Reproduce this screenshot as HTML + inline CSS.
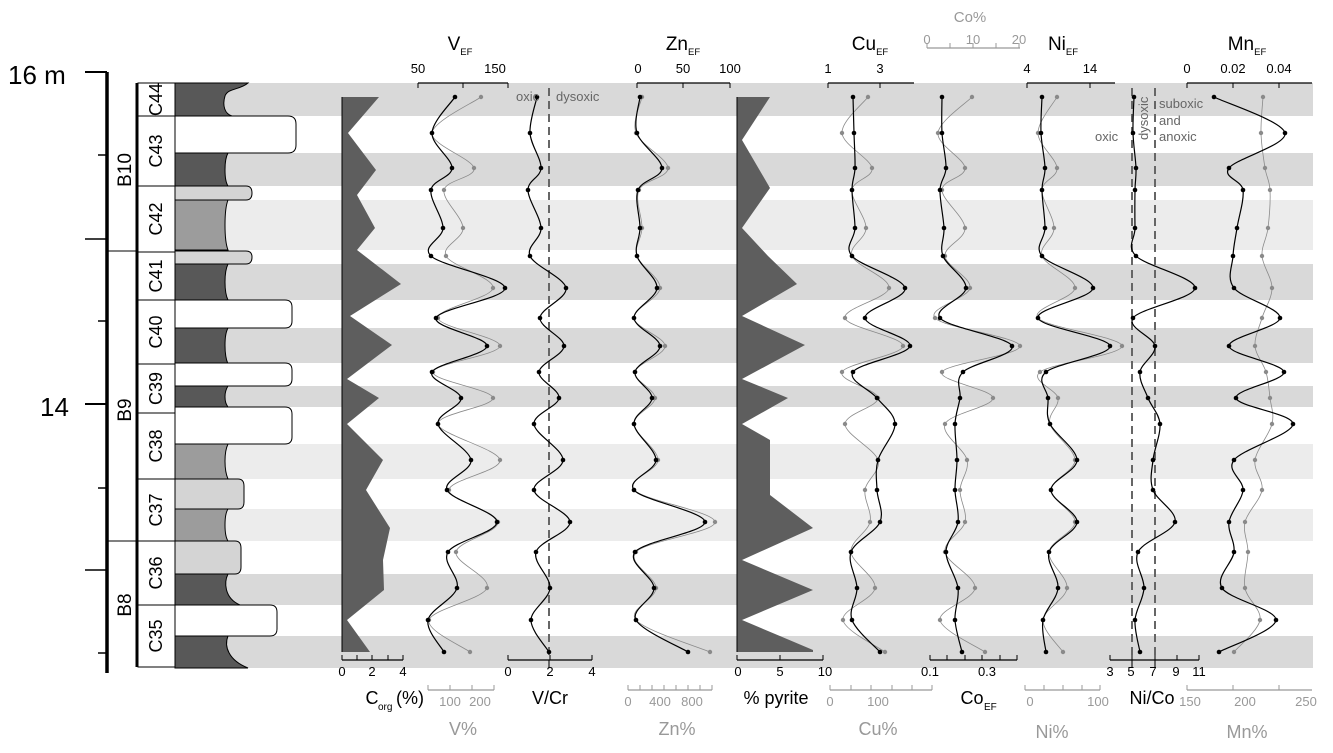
<!DOCTYPE html>
<html><head><meta charset="utf-8"><style>
body{margin:0;background:#fff;width:1333px;height:748px;overflow:hidden}
svg{font-family:"Liberation Sans",Arial,sans-serif}
</style></head><body>
<svg id="s" width="1333" height="748" viewBox="0 0 1333 748" xmlns="http://www.w3.org/2000/svg">
<g id="bands"></g>
<g stroke="#000" stroke-width="1">
<path d="M175,83 H248 C240,90 228,88 225,96 C222,106 225,114 232,116 H175Z" fill="#585858"/>
<path d="M175,153 H228 C224,160 224,180 228,186 H175Z" fill="#585858"/>
<path d="M175,200 H228 C224,210 224,240 228,250 H175Z" fill="#9c9c9c"/>
<path d="M175,264 H228 C224,272 224,292 228,300 H175Z" fill="#585858"/>
<path d="M175,328 H228 C224,335 224,355 228,364 H175Z" fill="#585858"/>
<path d="M175,386 H228 C224,392 224,402 228,407 H175Z" fill="#585858"/>
<path d="M175,444 H228 C224,452 224,470 228,479 H175Z" fill="#9c9c9c"/>
<path d="M175,509 H228 C224,515 224,535 228,541 H175Z" fill="#9c9c9c"/>
<path d="M175,574 H228 C224,582 224,598 240,605 H175Z" fill="#585858"/>
<path d="M175,636 H228 C224,646 228,660 248,668 H175Z" fill="#585858"/>
<path d="M175,116 H288 Q296,116 296,124 V145 Q296,153 288,153 H175Z" fill="#fff"/>
<path d="M175,186 H246 Q252,186 252,193 Q252,200 246,200 H175Z" fill="#d4d4d4"/>
<path d="M175,251 H246 Q252,251 252,257 Q252,264 246,264 H175Z" fill="#d4d4d4"/>
<path d="M175,300 H285 Q292,300 292,307 V321 Q292,328 285,328 H175Z" fill="#fff"/>
<path d="M175,363 H285 Q292,363 292,370 V379 Q292,386 285,386 H175Z" fill="#fff"/>
<path d="M175,407 H285 Q292,407 292,414 V437 Q292,444 285,444 H175Z" fill="#fff"/>
<path d="M175,479 H238 Q244,479 244,486 V502 Q244,509 238,509 H175Z" fill="#d4d4d4"/>
<path d="M175,541 H235 Q241,541 241,548 V567 Q241,574 235,574 H175Z" fill="#d4d4d4"/>
<path d="M175,605 H270 Q277,605 277,612 V629 Q277,636 270,636 H175Z" fill="#fff"/>
</g>
<g stroke="#000">
<line x1="107" y1="72" x2="107" y2="673" stroke-width="3.5"/>
<line x1="85" y1="72" x2="107" y2="72" stroke-width="2"/>
<line x1="98" y1="155" x2="107" y2="155" stroke-width="1.5"/>
<line x1="85" y1="239" x2="107" y2="239" stroke-width="1.5"/>
<line x1="98" y1="321" x2="107" y2="321" stroke-width="1.5"/>
<line x1="85" y1="404" x2="107" y2="404" stroke-width="2"/>
<line x1="98" y1="488" x2="107" y2="488" stroke-width="1.5"/>
<line x1="85" y1="570" x2="107" y2="570" stroke-width="1.5"/>
<line x1="98" y1="653" x2="107" y2="653" stroke-width="1.5"/>
<line x1="137" y1="83" x2="137" y2="667" stroke-width="3"/>
<line x1="107" y1="251" x2="137" y2="251" stroke-width="1"/>
<line x1="107" y1="541" x2="137" y2="541" stroke-width="1"/>
<rect x="138" y="83" width="37" height="584" fill="#fff" stroke-width="1"/>
</g>
<g id="cl" stroke="#000" stroke-width="1"></g>
<text x="8" y="84" font-size="26">16 m</text>
<text x="40" y="416" font-size="26">14</text>
<g font-size="19">
<text transform="translate(131,170) rotate(-90)" text-anchor="middle">B10</text>
<text transform="translate(131,410) rotate(-90)" text-anchor="middle">B9</text>
<text transform="translate(131,605) rotate(-90)" text-anchor="middle">B8</text>
</g>
<g id="clab" font-size="18" text-anchor="middle"></g>
<path fill="#5e5e5e" d="M342,97 L379,97 L348,133 L376,170 L357,195 L375,228 L357,250 L401,284 L350,316 L392,345 L347,379 L379,398 L347,424 L383,460 L366,490 L390,528 L383,560 L384,590 L347,620 L370,652 L342,652Z"/>
<line x1="342" y1="97" x2="342" y2="652" stroke="#000"/>
<path fill="#5e5e5e" d="M737,97 L770,97 L742,140 L770,188 L742,228 L768,256 L797,284 L742,316 L805,345 L742,379 L788,398 L742,424 L770,440 L770,495 L813,528 L742,560 L813,590 L742,620 L813,650 L813,652 L737,652Z"/>
<line x1="737" y1="97" x2="737" y2="652" stroke="#000"/>
<g stroke="#666" stroke-width="2" stroke-dasharray="8,5">
<line x1="549" y1="88" x2="549" y2="668"/>
<line x1="1132" y1="88" x2="1132" y2="668"/>
<line x1="1155" y1="88" x2="1155" y2="668"/>
</g>
<g id="curves"></g>
<g id="axes" stroke="#000" fill="none"></g>
<g id="txt"></g>
<g font-size="13" fill="#666">
<text x="516" y="101">oxic</text><text x="556" y="101">dysoxic</text>
<text x="1095" y="141">oxic</text>
<text transform="translate(1148,140) rotate(-90)">dysoxic</text>
<text x="1159" y="108">suboxic</text><text x="1159" y="125">and</text><text x="1159" y="141">anoxic</text>
</g>
</svg>
<script>
const NS="http://www.w3.org/2000/svg";
function el(p,t,a,txt){const e=document.createElementNS(NS,t);for(const k in a)e.setAttribute(k,a[k]);if(txt!=null)e.textContent=txt;document.getElementById(p).appendChild(e);return e;}
[[83,116,"#d9d9d9"],[153,186,"#d9d9d9"],[200,250,"#ececec"],[264,300,"#d9d9d9"],[328,363,"#d9d9d9"],[386,407,"#d9d9d9"],[444,479,"#ececec"],[509,541,"#ececec"],[574,605,"#d9d9d9"],[636,668,"#d9d9d9"]].forEach(b=>el("bands","rect",{x:175,y:b[0],width:1138,height:b[1]-b[0],fill:b[2]}));
const cb=[83,116,186,252,300,364,413,479,541,605,667];
const cn=["C44","C43","C42","C41","C40","C39","C38","C37","C36","C35"];
for(let i=0;i<10;i++){ if(i>0) el("cl","line",{x1:138,y1:cb[i],x2:175,y2:cb[i]});
 const c=(cb[i]+cb[i+1])/2; el("clab","text",{transform:`translate(162,${c}) rotate(-90)`,y:0},cn[i]);}
const Y=[97,133,168,190,228,256,288,318,346,372,398,424,460,490,522,552,588,620,652];
function smooth(xs){let p=[];for(let i=0;i<xs.length;i++)p.push([xs[i],Y[i]]);
 let d=`M${p[0][0]},${p[0][1]}`;for(let i=0;i<p.length-1;i++){const p0=p[Math.max(0,i-1)],p1=p[i],p2=p[i+1],p3=p[Math.min(p.length-1,i+2)];
 d+=` C${p1[0]+(p2[0]-p0[0])/6},${p1[1]+(p2[1]-p0[1])/6} ${p2[0]-(p3[0]-p1[0])/6},${p2[1]-(p3[1]-p1[1])/6} ${p2[0]},${p2[1]}`;}return d;}
function curve(xs,col,w,r){el("curves","path",{d:smooth(xs),fill:"none",stroke:col,"stroke-width":w});xs.forEach((x,i)=>el("curves","circle",{cx:x,cy:Y[i],r:r,fill:col}));}
const G="#8a8a8a",B="#000";
curve([481,432,474,444,463,446,493,438,500,433,493,438,500,449,498,456,487,429,470],G,0.8,2.2);
curve([455,432,452,431,443,431,505,436,487,432,461,438,471,447,497,448,457,428,444],B,1.2,2.3);
curve([537,530,541,528,541,530,566,540,564,539,559,534,563,534,570,536,550,531,549],B,1.2,2.3);
curve([642,636,668,639,642,637,660,634,665,635,655,634,658,634,715,636,656,636,710],G,0.8,2.2);
curve([640,637,662,638,640,637,657,634,660,635,652,634,656,634,705,635,654,636,688],B,1.2,2.3);
curve([868,842,872,852,866,852,889,845,903,842,878,845,878,865,870,851,875,843,885],G,0.8,2.2);
curve([853,854,855,852,855,852,905,865,910,853,877,895,878,877,880,851,857,852,880],B,1.2,2.3);
curve([972,938,965,942,965,945,970,935,1020,942,993,945,967,960,965,945,975,940,985],G,0.8,2.2);
curve([942,942,946,940,944,943,966,940,1012,963,960,955,957,955,958,946,958,955,962],B,1.2,2.3);
curve([1057,1038,1057,1042,1054,1042,1075,1038,1122,1040,1058,1050,1075,1051,1075,1049,1067,1043,1063],G,0.8,2.2);
curve([1042,1041,1045,1042,1045,1042,1093,1038,1110,1046,1048,1050,1077,1051,1077,1049,1058,1043,1046],B,1.2,2.3);
curve([1134,1133,1136,1135,1135,1136,1195,1133,1155,1140,1148,1160,1153,1153,1175,1138,1144,1135,1140],B,1.2,2.3);
curve([1263,1261,1265,1270,1268,1262,1272,1262,1255,1266,1270,1272,1255,1262,1245,1248,1245,1260,1234],G,0.8,2.2);
curve([1214,1285,1229,1243,1237,1233,1234,1280,1229,1284,1236,1293,1234,1243,1229,1234,1222,1276,1219],B,1.2,2.3);
function axis(x1,x2,y,ticks,up,col,labels,fs){el("axes","line",{x1,y1:y,x2,y2:y,stroke:col,"stroke-width":1.3});
 ticks.forEach(t=>el("axes","line",{x1:t,y1:y,x2:t,y2:y+(up?-5:5),stroke:col}));
 (labels||[]).forEach(l=>el("txt","text",{x:l[0],y:l[1],"font-size":fs||13,"text-anchor":"middle",fill:col},l[2]));}
axis(418,508,83,[418,463,508],false,"#000",[[418,73,"50"],[495,73,"150"]]);
axis(637,730,83,[637,683,730],false,"#000",[[638,73,"0"],[683,73,"50"],[730,73,"100"]]);
axis(828,914,83,[828,880],false,"#000",[[828,73,"1"],[880,73,"3"]]);
axis(927,1020,48,[927,950,973,996,1019],true,"#999",[[927,44,"0"],[973,44,"10"],[1019,44,"20"]]);
axis(1027,1115,83,[1027,1090],false,"#000",[[1027,73,"4"],[1090,73,"14"]]);
axis(1187,1312,83,[1187,1233,1279],false,"#000",[[1187,73,"0"],[1233,73,"0.02"],[1279,73,"0.04"]]);
axis(342,403,660,[342,357,372,388,403],true,"#000",[[342,676,"0"],[372,676,"2"],[403,676,"4"]]);
axis(508,592,660,[508,550,592],true,"#000",[[508,676,"0"],[550,676,"2"],[592,676,"4"]]);
axis(737,823,660,[737,780,823],true,"#000",[[738,676,"0"],[780,676,"5"],[825,676,"10"]]);
axis(930,1017,660,[930,947,965,982,1000,1017],true,"#000",[[930,676,"0.1"],[987,676,"0.3"]]);
axis(1110,1199,660,[1110,1132,1155,1177,1199],true,"#000",[[1110,676,"3"],[1131,676,"5"],[1153,676,"7"],[1176,676,"9"],[1199,676,"11"]]);
axis(428,494,690,[428,450,472,494],true,"#999",[[450,706,"100"],[480,706,"200"]]);
axis(628,712,690,[628,640,652,664,676,688,700,712],true,"#999",[[628,706,"0"],[660,706,"400"],[692,706,"800"]]);
axis(830,932,690,[830,851,871,892,912,932],true,"#999",[[830,706,"0"],[878,706,"100"]]);
axis(1025,1100,690,[1025,1044,1063,1082,1100],true,"#999",[[1030,706,"0"],[1098,706,"100"]]);
axis(1187,1312,690,[1187,1233,1279],true,"#999",[[1190,706,"150"],[1245,706,"200"],[1306,706,"250"]]);
function t(x,y,s,fs,col,sub){const e=el("txt","text",{x,y,"font-size":fs,"text-anchor":"middle",fill:col||"#000"},s);
 if(sub){const ts=document.createElementNS(NS,"tspan");ts.setAttribute("font-size",fs*0.5);ts.setAttribute("dy",5);ts.textContent=sub;e.appendChild(ts);}}
t(460,50,"V",19,"#000","EF");t(683,50,"Zn",19,"#000","EF");t(870,50,"Cu",19,"#000","EF");t(1063,50,"Ni",19,"#000","EF");t(1247,50,"Mn",19,"#000","EF");
t(970,22,"Co%",15,"#999");
t(372,704,"C",18,"#000");el("txt","text",{x:378,y:710,"font-size":10},"org");el("txt","text",{x:396,y:704,"font-size":18},"(%)");
t(550,704,"V/Cr",18);t(776,704,"% pyrite",18);t(972,704,"Co",18);el("txt","text",{x:984,y:710,"font-size":10},"EF");t(1152,704,"Ni/Co",18);
t(463,735,"V%",18,"#999");t(677,735,"Zn%",18,"#999");t(878,735,"Cu%",18,"#999");t(1052,738,"Ni%",18,"#999");t(1247,738,"Mn%",18,"#999");
</script>
</body></html>
